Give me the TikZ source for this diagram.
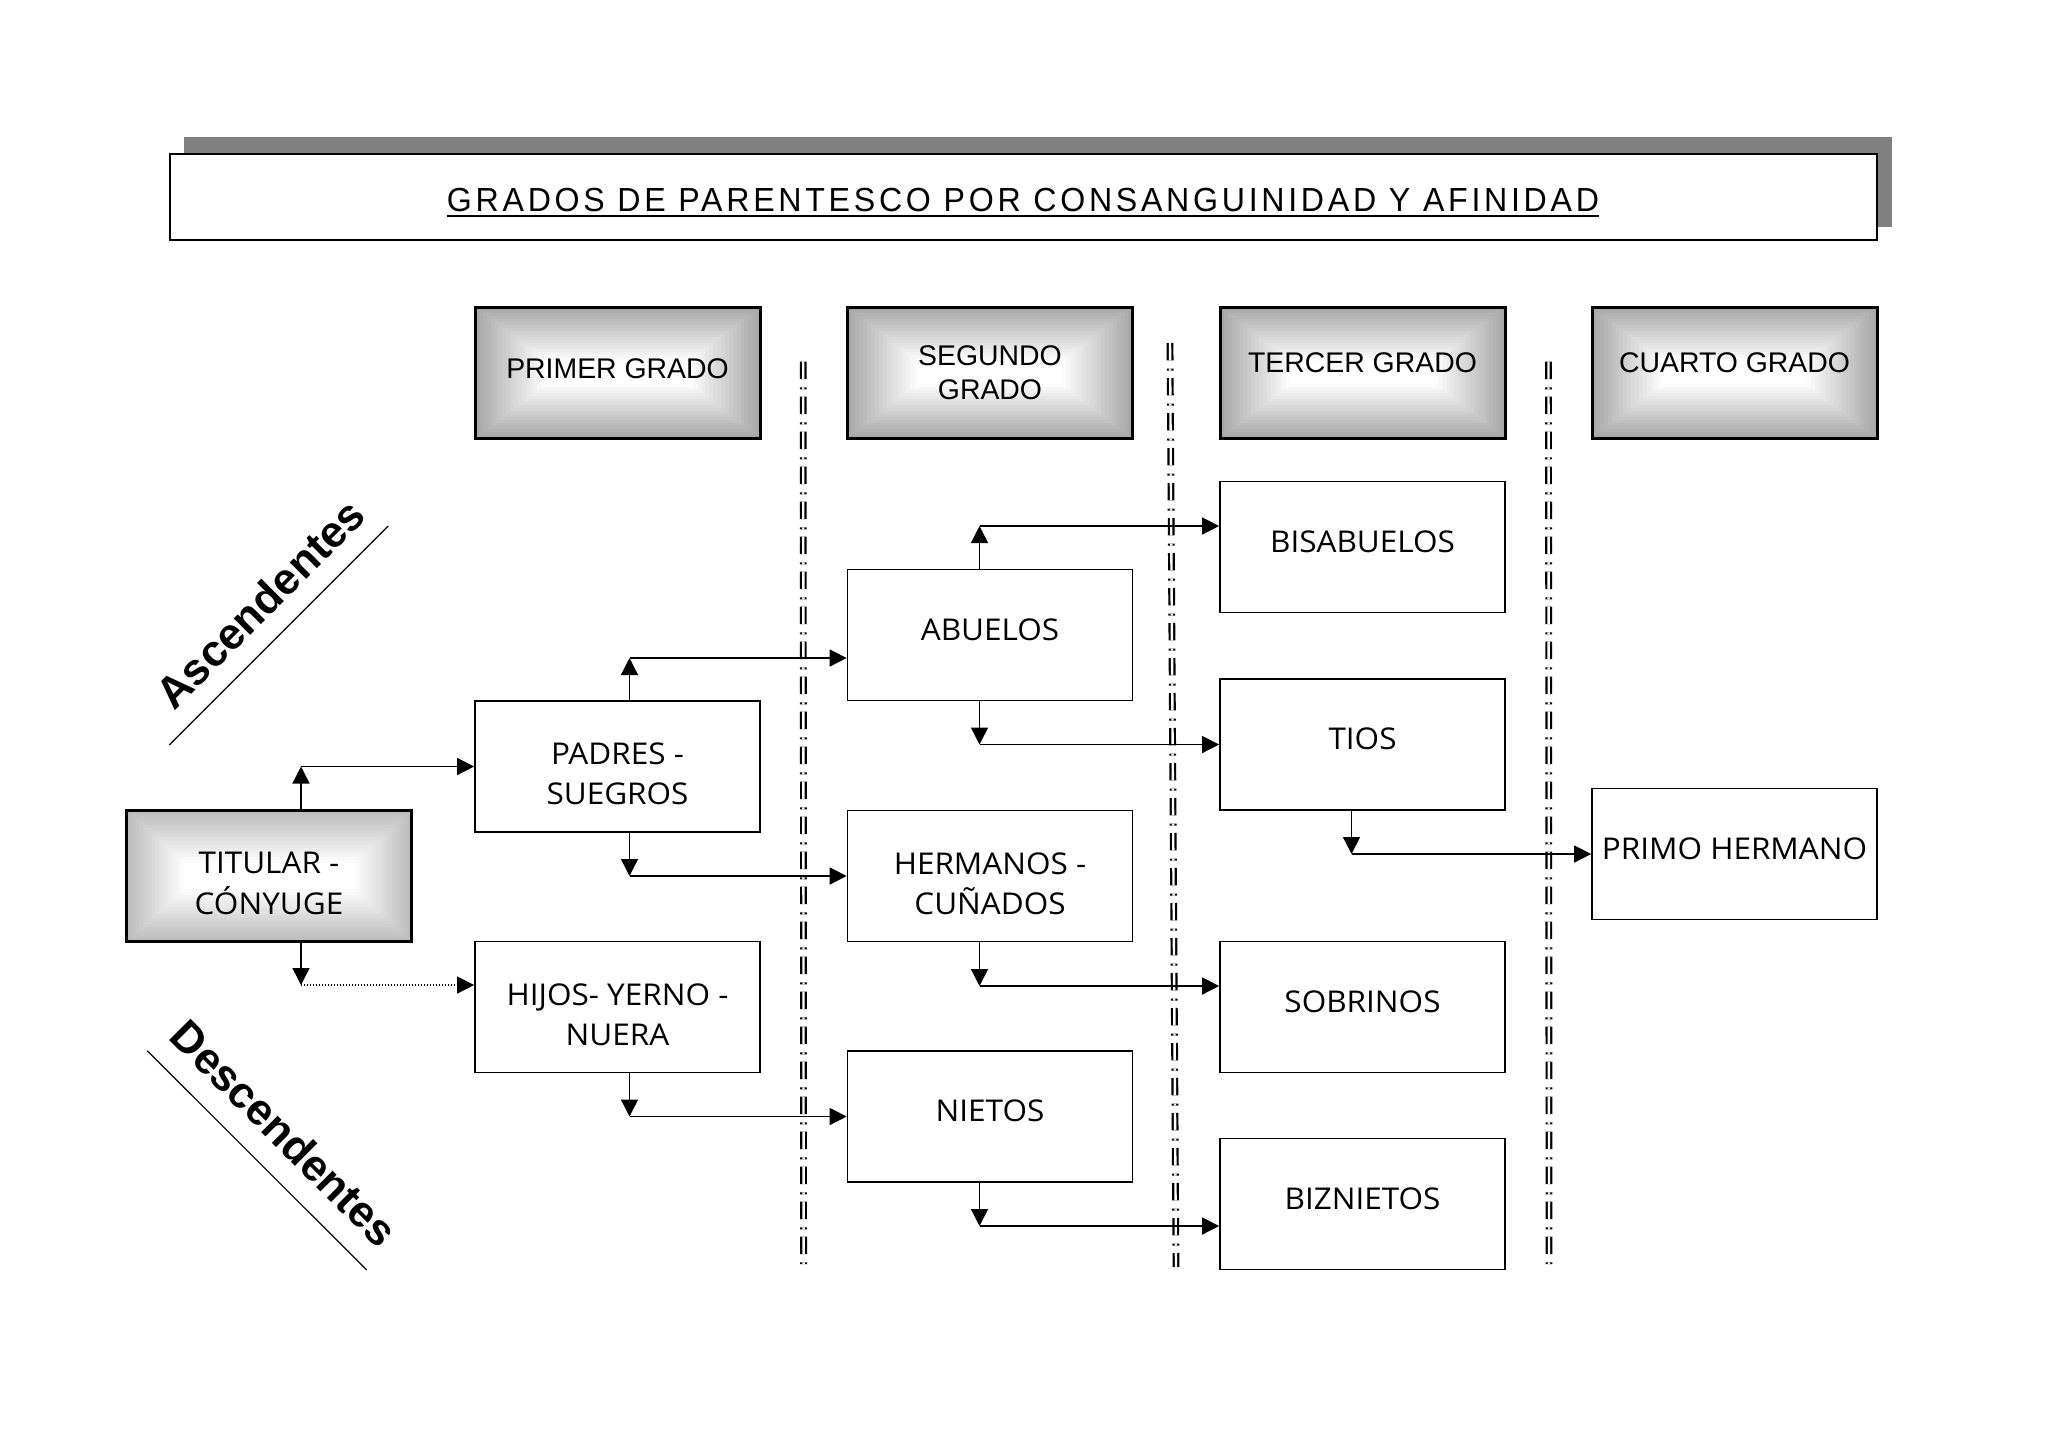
\documentclass[tikz,border=0pt]{standalone}
\usepackage{fontspec}
\setmainfont{Liberation Sans}
\newfontfamily\boxfont{Open Sans}[FakeStretch=1.05]
\newfontfamily\titlefont{Liberation Sans}[FakeStretch=0.78,LetterSpace=9]
\usetikzlibrary{arrows.meta}
\definecolor{hdrgray}{gray}{0.66}
\definecolor{titgray}{gray}{0.74}
\definecolor{shadowgray}{gray}{0.5}
\tikzset{
  gradbox/.style n args={3}{path picture={
    \foreach \i in {0,...,18}{
      \pgfmathtruncatemacro{\pc}{min(100,\i*5.6)}
      \fill[white!\pc!#1] ([xshift=\i*#2,yshift=\i*#3]path picture bounding box.south west)
        rectangle ([xshift=-\i*#2,yshift=-\i*#3]path picture bounding box.north east);
    }}},
  hdr/.style={draw=black, line width=1.5pt, minimum width=142.5pt, minimum height=65.5pt,
    inner sep=0pt, gradbox={hdrgray}{1.95pt}{1.5pt}},
  tit/.style={draw=black, line width=1.4pt, minimum width=142.5pt, minimum height=65.5pt,
    inner sep=0pt, gradbox={titgray}{1.6pt}{1.45pt}},
  kbox/.style={draw=black, fill=white, line width=0.85pt, minimum width=142.5pt,
    minimum height=65.5pt, inner sep=0pt},
  htext/.style={font=\fontsize{14.2}{17}\selectfont, align=center, inner sep=0pt},
  btext/.style={font=\boxfont\fontsize{15}{20.15}\selectfont, align=center, inner sep=0pt},
  con/.style={line width=0.7pt, -{Triangle[length=8.5pt,width=8.5pt]}},
  sep/.style={line width=1.1pt, double=white, double distance=1.2pt,
    dash pattern=on 8.65pt off 4.15pt on 1pt off 3.7pt},
  side/.style={font=\bfseries\fontsize{22}{26}\selectfont, sloped, above}
}
\begin{document}
\begin{tikzpicture}[x=0.5pt,y=-0.5pt]
\useasboundingbox (0,0) rectangle (2048,1447);
% title
\fill[shadowgray] (184,137) rectangle (1892,227);
\node[draw=black, fill=white, line width=1pt, minimum width=853.5pt, minimum height=43.15pt,
  inner sep=0pt] (titlebox) at (1023.3,197.2) {};
\node[anchor=base, inner sep=0pt] (title) at (1023,211.7)
  {\resizebox{576pt}{11.65pt}{\titlefont GRADOS DE PARENTESCO POR CONSANGUINIDAD Y AFINIDAD}};
\draw[line width=1pt] ([yshift=-2pt]title.base west) -- ([yshift=-2pt]title.base east);
% headers
\node[hdr] (primer) at (617.5,372.5) {};
\node[hdr] (segundo) at (990,372.5) {};
\node[hdr] (tercer) at (1362.5,372.5) {};
\node[hdr] (cuarto) at (1734.5,372.5) {};
\node[htext] (primerT) at ([yshift=2pt]primer.center) {PRIMER GRADO};
\node[htext] (segundoT) at (segundo.center) {SEGUNDO\\GRADO};
\node[htext] (tercerT) at ([yshift=5pt]tercer.center) {TERCER GRADO};
\node[htext] (cuartoT) at ([yshift=5pt]cuarto.center) {CUARTO GRADO};
% separators
\draw[sep] (803.2,361.7) -- (803.6,1264);
\draw[sep] (1170,343) -- (1176,1267);
\draw[sep] (1548.5,361.7) -- (1549,1264);
% boxes
\node[tit] (titular) at (269,876) {};
\node[kbox] (padres) at (617.5,766.5) {};
\node[kbox] (hijos) at (617.5,1007) {};
\node[kbox] (abuelos) at (990,635) {};
\node[kbox] (hermanos) at (990,876) {};
\node[kbox] (nietos) at (990,1116.5) {};
\node[kbox] (bisabuelos) at (1362.5,547) {};
\node[kbox] (tios) at (1362.5,744.5) {};
\node[kbox] (sobrinos) at (1362.5,1007) {};
\node[kbox] (biznietos) at (1362.5,1204) {};
\node[kbox] (primo) at (1734.5,854) {};
% box texts
\node[btext] (titularT) at ([yshift=-3.75pt]titular.center) {TITULAR -\\CÓNYUGE};
\node[btext] (padresT) at ([yshift=-3.75pt]padres.center) {PADRES -\\SUEGROS};
\node[btext] (hijosT) at ([yshift=-3.75pt]hijos.center) {HIJOS- YERNO -\\NUERA};
\node[btext] (abuelosT) at ([yshift=2.75pt]abuelos.center) {ABUELOS};
\node[btext] (hermanosT) at ([yshift=-3.75pt]hermanos.center) {HERMANOS -\\CUÑADOS};
\node[btext] (nietosT) at ([yshift=2.75pt]nietos.center) {NIETOS};
\node[btext] (bisabuelosT) at ([yshift=2.75pt]bisabuelos.center) {BISABUELOS};
\node[btext] (tiosT) at ([yshift=2.75pt]tios.center) {TIOS};
\node[btext] (sobrinosT) at ([yshift=2.75pt]sobrinos.center) {SOBRINOS};
\node[btext] (biznietosT) at ([yshift=2.75pt]biznietos.center) {BIZNIETOS};
\node[btext] (primoT) at ([yshift=2.75pt]primo.center) {PRIMO HERMANO};
% corner points
\coordinate (tu) at (301,766.5);
\coordinate (td) at (301,985);
\coordinate (pu) at (629.5,658);
\coordinate (pd) at (629.5,876);
\coordinate (hd) at (629.5,1116.5);
\coordinate (au) at (979.5,526);
\coordinate (ad) at (979.5,744.5);
\coordinate (hed) at (979.5,986);
\coordinate (nd) at (979.5,1226);
\coordinate (tid) at (1351.5,854);
% connectors
\draw[con] (titular.north -| tu) -- (tu);
\draw[con] (tu) -- (padres.west |- tu);
\draw[con] (titular.south -| td) -- (td);
\draw[con, dash pattern=on 0.7pt off 0.8pt] (td) -- (hijos.west |- td);
\draw[con] (padres.north -| pu) -- (pu);
\draw[con] (pu) -- (abuelos.west |- pu);
\draw[con] (padres.south -| pd) -- (pd);
\draw[con] (pd) -- (hermanos.west |- pd);
\draw[con] (hijos.south -| hd) -- (hd);
\draw[con] (hd) -- (nietos.west |- hd);
\draw[con] (abuelos.north -| au) -- (au);
\draw[con] (au) -- (bisabuelos.west |- au);
\draw[con] (abuelos.south -| ad) -- (ad);
\draw[con] (ad) -- (tios.west |- ad);
\draw[con] (hermanos.south -| hed) -- (hed);
\draw[con] (hed) -- (sobrinos.west |- hed);
\draw[con] (nietos.south -| nd) -- (nd);
\draw[con] (nd) -- (biznietos.west |- nd);
\draw[con] (tios.south -| tid) -- (tid);
\draw[con] (tid) -- (primo.west |- tid);
% side labels
\coordinate (asA) at (169.3,745);
\coordinate (asB) at (388.3,526);
\coordinate (dsA) at (147.3,1050.7);
\coordinate (dsB) at (366.7,1270);
\draw[line width=0.6pt] (asA) -- node[side, pos=0.53, inner sep=9.5pt] (ascT) {Ascendentes} (asB);
\draw[line width=0.6pt] (dsA) -- node[side, pos=0.5, inner sep=11pt] (descT) {Descendentes} (dsB);
\end{tikzpicture}
\end{document}
